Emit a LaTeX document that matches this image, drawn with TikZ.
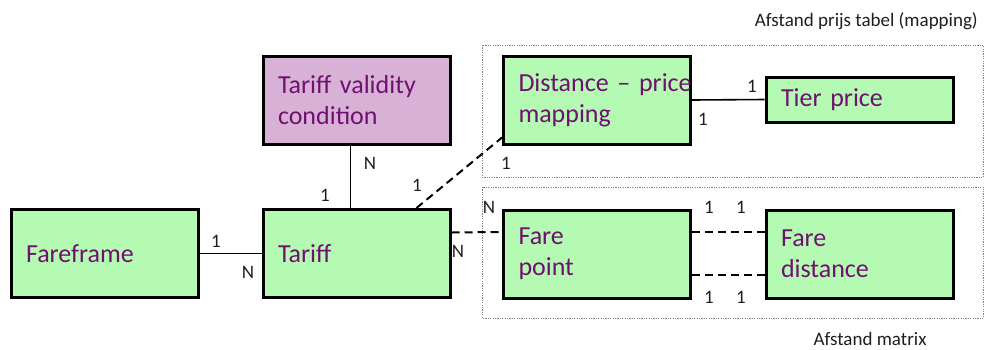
\documentclass[tikz,border=0pt]{standalone}
\usepackage{fontspec}
\setmainfont{Carlito}
\usepackage{tikz}
\usetikzlibrary{positioning}
\usetikzlibrary{calc}

\definecolor{boxgreen}{RGB}{180,250,178}
\definecolor{boxpink}{RGB}{216,178,214}
\definecolor{boxtext}{RGB}{112,16,112}
\definecolor{labeltext}{RGB}{30,30,30}

\begin{document}
\begin{tikzpicture}[x=1pt,y=-1pt,
    entity/.style={draw=black,line width=3pt,fill=boxgreen,minimum width=187pt,minimum height=88pt,
      inner xsep=15pt,inner ysep=0pt,text width=157pt,align=left,text=boxtext,
      font=\fontsize{26}{31}\selectfont},
    card/.style={font=\fontsize{19}{21}\selectfont,text=labeltext,inner sep=0pt},
    rel/.style={line width=1.6pt},
    optrel/.style={line width=2pt,dash pattern=on 8pt off 5pt},
    group/.style={draw=gray,line width=1pt,dash pattern=on 1.2pt off 1.2pt}]
    \useasboundingbox (0,0) rectangle (984,349);
    % groups
    \draw[group] (482,45) rectangle (983.5,177);
    \draw[group] (482,187) rectangle (983.5,318);
    \node[card,anchor=east] (mappinglbl) at (978,21) {Afstand prijs tabel (mapping)};
    \node[card] (matrixlbl) at (870,339) {Afstand matrix};
    % entities
    \node[entity] (fareframe) at (104.5,253.5) {Fareframe};
    \node[entity] (tariff) at (356.5,253.5) {Tariff};
    \node[entity,fill=boxpink] (validity) at (356.5,100) {Tariff validity\\condition};
    \node[entity] (mapping) at (597,100) {\mbox{Distance -- price}\\mapping};
    \node[entity,minimum height=45pt] (tier) at (859.5,99.5) {Tier price};
    \node[entity] (farepoint) at (597,254) {Fare\\point};
    \node[entity] (faredist) at (859.5,254) {Fare\\distance};
    % relations
    \draw[rel] (fareframe.east) -- (tariff.west);
    \node[card] (c1) at (216,241) {1};
    \node[card] (c2) at (248,272) {N};
    \draw[rel] ([xshift=-6pt]validity.south) -- ([xshift=-6pt]tariff.north);
    \node[card] (c3) at (370,163) {N};
    \node[card] (c4) at (325,195) {1};
    \draw[optrel] ([xshift=-35pt]tariff.north east) -- ([yshift=8pt]mapping.south west);
    \node[card] (c5) at (417,185) {1};
    \node[card] (c6) at (506,163) {1};
    \draw[rel] (mapping.east) -- (tier.west);
    \node[card] (c7) at (752,86) {1};
    \node[card] (c8) at (703,119) {1};
    \draw[optrel] ([yshift=21pt]tariff.east) -- ([yshift=22pt]farepoint.west);
    \node[card] (c9) at (489,207) {N};
    \node[card] (c10) at (458,251) {N};
    \draw[optrel] ([yshift=22pt]farepoint.east) -- ([yshift=22pt]faredist.west);
    \draw[optrel] ([yshift=-21pt]farepoint.east) -- ([yshift=-21pt]faredist.west);
    \node[card] (c11) at (709,207) {1};
    \node[card] (c12) at (741,207) {1};
    \node[card] (c13) at (709,297) {1};
    \node[card] (c14) at (741,297) {1};
\end{tikzpicture}
\end{document}
